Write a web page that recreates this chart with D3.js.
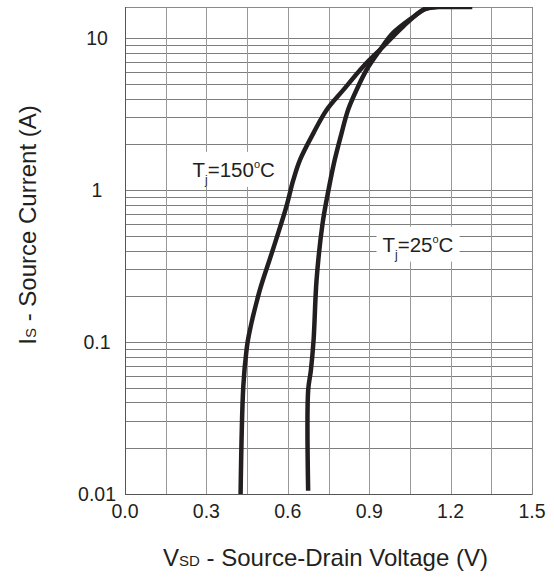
<!DOCTYPE html>
<html>
<head>
<meta charset="utf-8">
<script src="https://cdn.jsdelivr.net/npm/d3@7"></script>
<style>
  body { margin: 0; background: #fff; }
  text { font-family: "Liberation Sans", Arial, sans-serif; fill: #231f20; }
</style>
</head>
<body>
<div id="chart"></div>
<script>
// curve data
var vsd25 = [0.675, 0.675, 0.685, 0.695, 0.706, 0.728, 0.750, 0.773, 0.798, 0.822, 0.853, 0.890, 0.939, 0.988, 1.061, 1.111, 1.200, 1.280];
var is25 = [0.0105, 0.048, 0.065, 0.103, 0.256, 0.60, 1.0, 1.58, 2.36, 3.36, 4.54, 6.16, 8.3, 10.8, 13.7, 15.7, 16, 16];

var vsd150 = [0.426, 0.436, 0.448, 0.456, 0.497, 0.540, 0.595, 0.620, 0.645, 0.694, 0.743, 0.804, 0.878, 0.951, 1.025, 1.099, 1.148];
var is150 = [0.01, 0.051, 0.089, 0.11, 0.22, 0.38, 0.78, 1.16, 1.58, 2.36, 3.36, 4.54, 6.5, 8.76, 11.9, 15.3, 16];

var xTicks = [0.0, 0.3, 0.6, 0.9, 1.2, 1.5];
var xGrid = [0.15, 0.45, 0.75, 1.05, 1.35];
var yTicks = [0.01, 0.1, 1, 10];
var yTickLabels = ["0.01", "0.1", "1", "10"];

var svgWidth = 554;
var svgHeight = 580;

var margin = {
  top: 7,
  right: 22,
  bottom: 86,
  left: 125
};

var width = svgWidth - margin.left - margin.right;
var height = svgHeight - margin.top - margin.bottom;

var svg = d3.select("#chart")
  .append("svg")
  .attr("width", svgWidth)
  .attr("height", svgHeight);

var chartGroup = svg.append("g")
  .attr("transform", `translate(${margin.left}, ${margin.top})`);

var xScale = d3.scaleLinear()
  .domain([0, 1.5])
  .range([0, width]);

var yScale = d3.scaleLog()
  .domain([0.01, 16])
  .range([height, 0]);

// minor grid: 1..9 in every decade
var yGrid = [];
[0.01, 0.1, 1, 10].forEach(function(dec) {
  for (var k = 1; k <= 9; k++) {
    if (dec * k < 16) yGrid.push(dec * k);
  }
});

chartGroup.append("g")
  .selectAll("line")
  .data(yGrid)
  .enter()
  .append("line")
  .attr("x1", 0)
  .attr("x2", width)
  .attr("y1", d => Math.round(yScale(d)) + 0.5)
  .attr("y2", d => Math.round(yScale(d)) + 0.5)
  .attr("stroke", "#7d7d7d")
  .attr("stroke-width", 1);

chartGroup.append("g")
  .selectAll("line")
  .data(xTicks.concat(xGrid))
  .enter()
  .append("line")
  .attr("x1", d => Math.round(xScale(d)) + 0.5)
  .attr("x2", d => Math.round(xScale(d)) + 0.5)
  .attr("y1", 0)
  .attr("y2", height)
  .attr("stroke", "#999")
  .attr("stroke-width", 1);

// frame
chartGroup.append("rect")
  .attr("x", 0.5)
  .attr("y", 0.5)
  .attr("width", width)
  .attr("height", height)
  .attr("fill", "none")
  .attr("stroke", "#8a8a8a");

chartGroup.append("line")
  .attr("x1", 0.5).attr("x2", 0.5)
  .attr("y1", 0).attr("y2", height + 0.5)
  .attr("stroke", "#555");
chartGroup.append("line")
  .attr("x1", 0).attr("x2", width)
  .attr("y1", height + 0.5).attr("y2", height + 0.5)
  .attr("stroke", "#555");

// x tick labels
chartGroup.append("g")
  .selectAll("text")
  .data(xTicks)
  .enter()
  .append("text")
  .attr("x", d => xScale(d))
  .attr("y", height + 24)
  .attr("text-anchor", "middle")
  .style("font-size", "19.5px")
  .text(d => d.toFixed(1));

// y tick labels
chartGroup.append("g")
  .selectAll("text")
  .data(yTicks)
  .enter()
  .append("text")
  .attr("x", -28)
  .attr("y", d => yScale(d))
  .attr("dy", "0.35em")
  .attr("text-anchor", "middle")
  .style("font-size", "19.5px")
  .text((d, i) => yTickLabels[i]);

// curves
chartGroup.append("clipPath")
  .attr("id", "plotClip")
  .append("rect")
  .attr("width", width)
  .attr("height", height);

var line = d3.line()
  .x(d => xScale(d[0]))
  .y(d => yScale(d[1]))
  .curve(d3.curveCatmullRom.alpha(0.5));

[[vsd25, is25], [vsd150, is150]].forEach(function(s) {
  chartGroup.append("path")
    .datum(d3.zip(s[0], s[1]))
    .attr("clip-path", "url(#plotClip)")
    .attr("d", line)
    .attr("fill", "none")
    .attr("stroke", "#231f20")
    .attr("stroke-width", 4.5)
    .attr("stroke-linejoin", "round");
});

// curve labels with white boxes
function curveLabel(x, y, temp) {
  var g = chartGroup.append("g");
  var box = g.append("rect").attr("fill", "#fff");
  var t = g.append("text")
    .attr("x", x)
    .attr("y", y)
    .style("font-size", "20.5px");
  t.append("tspan").text("T");
  t.append("tspan").attr("dy", 7).style("font-size", "12px").text("j");
  t.append("tspan").attr("dy", -7).text("=" + temp);
  t.append("tspan").attr("dy", -9).style("font-size", "11px").text("o");
  t.append("tspan").attr("dy", 9).text("C");
  var bb = t.node().getBBox();
  box.attr("x", bb.x - 6)
    .attr("y", y - 25)
    .attr("width", bb.width + 12)
    .attr("height", 35);
}

curveLabel(xScale(0.249), yScale(1.22), "150");
curveLabel(xScale(0.949), yScale(0.393), "25");

// axis titles
var xTitle = svg.append("text")
  .attr("x", margin.left + width / 2 - 3)
  .attr("y", 566)
  .attr("text-anchor", "middle")
  .style("font-size", "24px");
xTitle.append("tspan").text("V");
xTitle.append("tspan").style("font-size", "15px").text("SD");
xTitle.append("tspan").text(" - Source-Drain Voltage (V)");

var yTitle = svg.append("text")
  .attr("transform", "rotate(-90)")
  .attr("x", -225)
  .attr("y", 36)
  .attr("text-anchor", "middle")
  .style("font-size", "24px");
yTitle.append("tspan").text("I");
yTitle.append("tspan").style("font-size", "15px").text("S");
yTitle.append("tspan").text(" - Source Current (A)");
</script>
</body>
</html>
